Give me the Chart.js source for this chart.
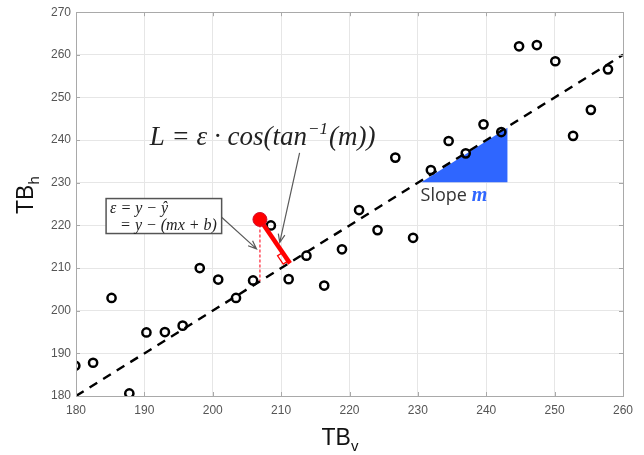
<!DOCTYPE html>
<html>
<head>
<meta charset="utf-8">
<script src="https://cdn.jsdelivr.net/npm/chart.js@4.4.1/dist/chart.umd.min.js"></script>
<style>
  html, body { margin: 0; padding: 0; background: #fff; }
  #wrap { width: 644px; height: 455px; }
</style>
</head>
<body>
<div id="wrap"><canvas id="chart" width="644" height="455"></canvas></div>
<script>
// observations (TBv, TBh)
const tbV = [179.9, 182.5, 185.2, 187.8, 190.3, 193.0, 195.6, 198.1, 200.8, 203.4,
             205.9, 208.5, 211.1, 213.7, 216.3, 218.9, 221.4, 224.1, 226.7, 229.3,
             231.9, 234.5, 237.0, 239.6, 242.2, 244.8, 247.4, 250.1, 252.7, 255.3, 257.8];
const tbH = [187.1, 187.8, 203.0, 180.6, 194.9, 195.0, 196.5, 210.0, 207.3, 203.0,
             207.1, 220.0, 207.4, 212.9, 205.9, 214.4, 223.6, 218.9, 235.9, 217.1,
             233.0, 239.8, 236.9, 243.7, 241.9, 262.0, 262.3, 258.5, 241.0, 247.1, 256.6];

// regression line y = mx + b
const fitX = [180, 260];
const fitY = [180, 260];

// highlighted residual: observed point, fitted value and perpendicular foot
const residX = [206.9];
const residY = [221.4];
const yHat = [206.9];
const footX = [211.3];
const footY = [211.1];

// slope triangle
const triX = [230.5, 243.1, 243.1];
const triY = [230.1, 230.1, 242.9];

const xTicks = [180, 190, 200, 210, 220, 230, 240, 250, 260];
const yTicks = [180, 190, 200, 210, 220, 230, 240, 250, 260, 270];

const GRID = '#e6e6e6';
const FRAME = '#a9a9a9';
const TICKTXT = '#555555';
const RED = '#ff0000';
const BLUE = '#2f66ff';

function arrow(ctx, x1, y1, x2, y2) {
    const a = Math.atan2(y2 - y1, x2 - x1);
    const h = 9;
    ctx.beginPath();
    ctx.moveTo(x1, y1);
    ctx.lineTo(x2, y2);
    ctx.moveTo(x2 - h * Math.cos(a - 0.38), y2 - h * Math.sin(a - 0.38));
    ctx.lineTo(x2, y2);
    ctx.lineTo(x2 - h * Math.cos(a + 0.38), y2 - h * Math.sin(a + 0.38));
    ctx.stroke();
}

const decor = {
    id: 'decor',
    beforeDatasetsDraw(chart) {
        const { ctx, scales: { x, y } } = chart;
        ctx.save();
        ctx.fillStyle = BLUE;
        ctx.beginPath();
        triX.forEach((v, i) => {
            const px = x.getPixelForValue(v), py = y.getPixelForValue(triY[i]);
            if (i === 0) ctx.moveTo(px, py); else ctx.lineTo(px, py);
        });
        ctx.closePath();
        ctx.fill();
        ctx.restore();
    },
    afterDatasetsDraw(chart) {
        const { ctx, chartArea: ca, scales: { x, y } } = chart;
        ctx.save();

        // inward tick marks on all four sides
        ctx.strokeStyle = FRAME;
        ctx.lineWidth = 1;
        ctx.beginPath();
        xTicks.forEach(v => {
            const px = Math.round(x.getPixelForValue(v)) + 0.5;
            ctx.moveTo(px, ca.bottom); ctx.lineTo(px, ca.bottom - 4);
            ctx.moveTo(px, ca.top); ctx.lineTo(px, ca.top + 4);
        });
        yTicks.forEach(v => {
            const py = Math.round(y.getPixelForValue(v)) + 0.5;
            ctx.moveTo(ca.left, py); ctx.lineTo(ca.left + 4, py);
            ctx.moveTo(ca.right, py); ctx.lineTo(ca.right - 4, py);
        });
        ctx.stroke();
        ctx.strokeRect(Math.round(ca.left) + 0.5, Math.round(ca.top) + 0.5,
                       Math.round(ca.right - ca.left), Math.round(ca.bottom - ca.top));

        // right-angle marker at the foot of the perpendicular
        const fx = x.getPixelForValue(footX[0]), fy = y.getPixelForValue(footY[0]);
        const ox = x.getPixelForValue(residX[0]), oy = y.getPixelForValue(residY[0]);
        const lx = x.getPixelForValue(fitX[0]), ly = y.getPixelForValue(fitY[0]);
        let ux = ox - fx, uy = oy - fy, ul = Math.hypot(ux, uy);
        ux /= ul; uy /= ul;
        let vx = lx - fx, vy = ly - fy, vl = Math.hypot(vx, vy);
        vx /= vl; vy /= vl;
        const s = 10, o = 3;
        ctx.strokeStyle = RED;
        ctx.lineWidth = 1.3;
        ctx.beginPath();
        ctx.moveTo(fx + ux * (s + o), fy + uy * (s + o));
        ctx.lineTo(fx + ux * (s + o) + vx * s * 0.6, fy + uy * (s + o) + vy * s * 0.6);
        ctx.lineTo(fx + ux * o + vx * s * 0.6, fy + uy * o + vy * s * 0.6);
        ctx.lineTo(fx + ux * o, fy + uy * o);
        ctx.stroke();

        // arrows
        ctx.strokeStyle = '#5a5a5a';
        ctx.lineWidth = 1.2;
        arrow(ctx, x.getPixelForValue(212.7), y.getPixelForValue(237.0),
                   x.getPixelForValue(209.8), y.getPixelForValue(216.0));
        arrow(ctx, x.getPixelForValue(201.3), y.getPixelForValue(221.9),
                   x.getPixelForValue(206.4), y.getPixelForValue(214.5));

        // formula L = ε·cos(tan⁻¹(m))
        ctx.fillStyle = '#222';
        ctx.textBaseline = 'alphabetic';
        ctx.textAlign = 'left';
        const big = "italic 27px 'Liberation Serif', serif";
        const sup = "italic 17px 'Liberation Serif', serif";
        let tx = x.getPixelForValue(190.8), ty = y.getPixelForValue(238.9);
        ctx.font = big;
        const p1 = 'L = ε · cos(tan';
        ctx.fillText(p1, tx, ty); tx += ctx.measureText(p1).width;
        ctx.font = sup;
        ctx.fillText('−1', tx + 1, ty - 11); tx += ctx.measureText('−1').width + 2;
        ctx.font = big;
        ctx.fillText('(m))', tx, ty);

        // ε box
        const bx1 = x.getPixelForValue(184.4), bx2 = x.getPixelForValue(201.3);
        const by1 = y.getPixelForValue(226.3), by2 = y.getPixelForValue(218.1);
        ctx.fillStyle = '#fff';
        ctx.fillRect(bx1, by1, bx2 - bx1, by2 - by1);
        ctx.strokeStyle = '#555';
        ctx.lineWidth = 1.5;
        ctx.strokeRect(bx1, by1, bx2 - bx1, by2 - by1);
        ctx.fillStyle = '#222';
        ctx.font = "italic 16px 'Liberation Serif', serif";
        ctx.fillText('ε = y − ŷ', bx1 + 4, by1 + 14);
        ctx.fillText('= y − (mx + b)', bx1 + 14, by1 + 31);

        // Slope m
        ctx.font = "18px 'Open Sans', 'Liberation Sans', sans-serif";
        ctx.fillStyle = '#333';
        const sx = x.getPixelForValue(230.4), sy = y.getPixelForValue(225.8);
        ctx.fillText('Slope ', sx, sy);
        const sw = ctx.measureText('Slope ').width;
        ctx.font = "italic bold 20px 'Liberation Serif', serif";
        ctx.fillStyle = BLUE;
        ctx.fillText('m', sx + sw, sy);

        // axis titles with subscripts
        ctx.fillStyle = '#111';
        ctx.font = "23px 'Liberation Sans Narrow', 'Liberation Sans', sans-serif";
        const xc = (ca.left + ca.right) / 2;
        const tbw = ctx.measureText('TB').width;
        ctx.fillText('TB', xc - 28, 445);
        ctx.font = "15px 'Liberation Sans Narrow', 'Liberation Sans', sans-serif";
        ctx.fillText('v', xc - 28 + tbw, 451);

        ctx.translate(33, 214);
        ctx.rotate(-Math.PI / 2);
        ctx.font = "23px 'Liberation Sans Narrow', 'Liberation Sans', sans-serif";
        ctx.fillText('TB', 0, 0);
        ctx.font = "15px 'Liberation Sans Narrow', 'Liberation Sans', sans-serif";
        ctx.fillText('h', ctx.measureText('TB').width * 23 / 15, 6);
        ctx.restore();
    }
};

const toXY = (xs, ys) => xs.map((v, i) => ({ x: v, y: ys[i] }));

new Chart(document.getElementById('chart'), {
    type: 'scatter',
    data: {
        datasets: [
            {
                label: 'residual point',
                data: toXY(residX, residY),
                pointRadius: 7,
                pointBackgroundColor: RED,
                pointBorderColor: '#d01030',
                pointBorderWidth: 1,
                order: 0
            },
            {
                label: 'perpendicular',
                type: 'line',
                data: toXY([residX[0], footX[0]], [residY[0], footY[0]]),
                borderColor: RED,
                borderWidth: 4.5,
                pointRadius: 0,
                order: 1
            },
            {
                label: 'vertical residual',
                type: 'line',
                data: toXY([residX[0], residX[0]], [residY[0], yHat[0]]),
                borderColor: '#ff3040',
                borderWidth: 1.3,
                borderDash: [3, 2],
                pointRadius: 0,
                order: 2
            },
            {
                label: 'observations',
                data: toXY(tbV, tbH),
                pointRadius: 4.1,
                pointBackgroundColor: 'rgba(255,255,255,0)',
                pointBorderColor: '#000',
                pointBorderWidth: 2.5,
                order: 3
            },
            {
                label: 'fit',
                type: 'line',
                data: toXY(fitX, fitY),
                borderColor: '#000',
                borderWidth: 2.4,
                borderDash: [9, 7],
                pointRadius: 0,
                order: 4
            }
        ]
    },
    options: {
        responsive: false,
        animation: false,
        layout: { padding: { top: 11, right: 21, left: 0, bottom: 0 } },
        plugins: { legend: { display: false }, tooltip: { enabled: false } },
        scales: {
            x: {
                type: 'linear',
                min: 180, max: 260,
                afterFit: s => { s.height = 59; },
                afterBuildTicks: s => { s.ticks = xTicks.map(v => ({ value: v })); },
                grid: { color: GRID, drawTicks: false },
                border: { display: false },
                ticks: { color: TICKTXT, padding: 7, font: { family: "'Liberation Sans', Arial", size: 12 } }
            },
            y: {
                min: 180, max: 270,
                afterFit: s => { s.width = 76; },
                afterBuildTicks: s => { s.ticks = yTicks.map(v => ({ value: v })); },
                grid: { color: GRID, drawTicks: false },
                border: { display: false },
                ticks: { color: TICKTXT, padding: 5, font: { family: "'Liberation Sans', Arial", size: 12 } }
            }
        }
    },
    plugins: [decor]
});
</script>
</body>
</html>
